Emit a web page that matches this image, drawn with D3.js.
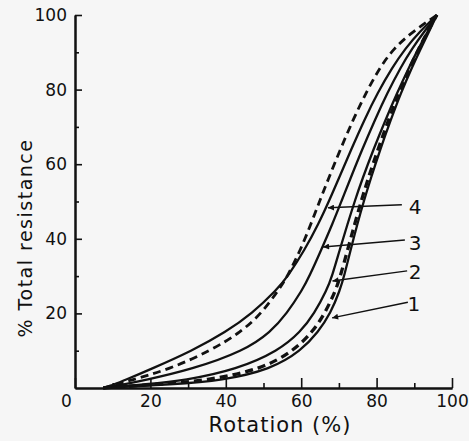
<!DOCTYPE html>
<html>
<head>
<meta charset="utf-8">
<script src="https://cdn.jsdelivr.net/npm/d3@7"></script>
<style>
  body { margin: 0; background: #f6f6f6; }
  svg { display: block; }
  text { font-family: "DejaVu Sans", sans-serif; fill: #111; }
</style>
</head>
<body>
<div id="chart"></div>
<script>
// curve readings, [rotation %, total resistance %]
var curve4 = [[7.5,0],[10.5,1],[13,2],[20,5],[31.1,10],[40,15],[47,20],[53.5,26.3],[56.5,30],[60.9,37],[64.6,44],[67.5,50.4],[69.9,56],[73.2,63.8],[76.8,72],[80.2,79],[84.2,86],[87.6,91],[91.4,95.5],[96,100]]
var curve3 = [[7.5,0],[13,1],[18,2],[31,5],[44.9,10],[51.9,15],[56.2,20],[60.3,26.3],[62.2,30],[65.3,37],[68.3,44],[70.8,50.4],[73,56],[76.1,63.8],[79.6,72],[82.8,79],[86.4,86],[89.4,91],[92.6,95.5],[96,100]]
var curve2 = [[7.5,0],[19,1],[29,2],[43,5],[54,10],[59.8,15],[63.5,20],[66.8,26.3],[68.2,30],[70.2,37],[72.3,44],[74.3,50.4],[76.2,56],[79.1,63.8],[82.4,72],[85.4,79],[88.6,86],[91.1,91],[93.5,95.5],[96,100]]
var curve1 = [[7.5,0],[26,1],[39,2],[52,5],[60,10],[64.5,15],[67.8,20],[70.3,26.3],[71.4,30],[73.1,37],[74.9,44],[76.7,50.4],[78.4,56],[80.9,63.8],[83.8,72],[86.4,79],[89.4,86],[91.7,91],[93.9,95.5],[96,100]]
var dashedLeft = [[7.5,0],[11,1],[14.5,2],[25,5],[36,10],[44,15],[49.5,20],[54,26.3],[56.4,30],[59.8,37],[62.6,44],[65,50.4],[67.2,56],[70.3,63.8],[73.8,72],[77.1,79],[80.9,86],[84.5,91],[89.5,95.5],[96,100]]
var dashedRight = [[7.5,0],[22,1],[35,2],[49.5,5],[58,10],[63,15],[66.3,20],[69.2,26.3],[70.4,30],[72.3,37],[74.2,44],[76,50.4],[77.7,56],[80.3,63.8],[83.2,72],[85.9,79],[88.8,86],[91.2,91],[93.5,95.5],[96,100]]

var majorTicks = [0, 20, 40, 60, 80, 100]
var minorTicks = [10, 30, 50, 70, 90]
var yLabels = [20, 40, 60, 80, 100]

// curve number labels: [name, label pos, arrow start, arrow tip]
var curveLabels = ["4", "3", "2", "1"]
var labelPos = [[90.2,48.5],[90.2,39],[90.2,31],[89.9,22.5]]
var arrowFrom = [[86.7,49.1],[87.5,39.7],[88.1,31.4],[88.3,23]]
var arrowTo = [[67.1,48.3],[65.8,37.8],[68.3,28.7],[68.2,18.8]]

var width = 469, height = 441

var svg = d3.select("#chart")
  .append("svg")
    .attr("width", width)
    .attr("height", height)

var x = d3.scaleLinear().domain([0, 100]).range([75, 452])
var y = d3.scaleLinear().domain([0, 100]).range([388, 15])

// x axis - minor ticks then major ticks with labels
svg.append("g")
    .attr("transform", "translate(0," + y(0) + ")")
    .call(d3.axisBottom(x).tickValues(minorTicks).tickSizeInner(-5).tickSizeOuter(0).tickFormat(""))
svg.append("g")
    .attr("class", "xaxis")
    .attr("transform", "translate(0," + y(0) + ")")
    .call(d3.axisBottom(x).tickValues(majorTicks).tickSizeInner(-10).tickSizeOuter(0).tickPadding(7))

// y axis
svg.append("g")
    .attr("transform", "translate(" + x(0) + ",0)")
    .call(d3.axisLeft(y).tickValues(minorTicks).tickSizeInner(-4).tickSizeOuter(0).tickFormat(""))
svg.append("g")
    .attr("class", "yaxis")
    .attr("transform", "translate(" + x(0) + ",0)")
    .call(d3.axisLeft(y).tickValues(yLabels).tickSizeInner(-7).tickSizeOuter(0).tickPadding(8))

svg.selectAll(".domain").attr("stroke", "#111").attr("stroke-width", 2)
svg.selectAll(".tick line").attr("stroke", "#111").attr("stroke-width", 1.6)
svg.selectAll(".tick text").style("font-size", "17px").attr("fill", "#111")
// the 0 sits left of the corner
svg.selectAll(".xaxis .tick text").filter(function(d) { return d === 0 }).attr("dx", -9)

// axis titles
svg.append("text")
    .attr("x", 280)
    .attr("y", 432)
    .attr("text-anchor", "middle")
    .style("font-size", "21px")
    .style("letter-spacing", "1px")
    .text("Rotation (%)")

svg.append("text")
    .attr("transform", "translate(32,238) rotate(-90)")
    .attr("text-anchor", "middle")
    .style("font-size", "19px")
    .style("letter-spacing", "1.5px")
    .text("% Total resistance")

// the curves
var line = d3.line()
    .x(function(d) { return x(d[0]) })
    .y(function(d) { return y(d[1]) })
    .curve(d3.curveBasis)

var solid = [curve4, curve3, curve2, curve1]
svg.selectAll(".solid")
    .data(solid)
    .enter().append("path")
    .attr("class", "solid")
    .attr("d", line)
    .attr("fill", "none")
    .attr("stroke", "#111")
    .attr("stroke-width", 2.3)

svg.selectAll(".dashed")
    .data([dashedLeft, dashedRight])
    .enter().append("path")
    .attr("class", "dashed")
    .attr("d", line)
    .attr("fill", "none")
    .attr("stroke", "#111")
    .attr("stroke-width", function(d, i) { return i == 0 ? 2.8 : 3.3 })
    .attr("stroke-dasharray", "8,5")

// arrows with numbers
svg.append("defs").append("marker")
    .attr("id", "head")
    .attr("viewBox", "0 0 10 10")
    .attr("refX", 10)
    .attr("refY", 5)
    .attr("markerWidth", 11)
    .attr("markerHeight", 6)
    .attr("markerUnits", "userSpaceOnUse")
    .attr("orient", "auto")
  .append("path")
    .attr("d", "M0,0L10,5L0,10z")
    .attr("fill", "#111")

svg.selectAll(".arrow")
    .data(curveLabels)
    .enter().append("line")
    .attr("class", "arrow")
    .attr("x1", function(d, i) { return x(arrowFrom[i][0]) })
    .attr("y1", function(d, i) { return y(arrowFrom[i][1]) })
    .attr("x2", function(d, i) { return x(arrowTo[i][0]) })
    .attr("y2", function(d, i) { return y(arrowTo[i][1]) })
    .attr("stroke", "#111")
    .attr("stroke-width", 1.5)
    .attr("marker-end", "url(#head)")

svg.selectAll(".num")
    .data(curveLabels)
    .enter().append("text")
    .attr("class", "num")
    .attr("x", function(d, i) { return x(labelPos[i][0]) })
    .attr("y", function(d, i) { return y(labelPos[i][1]) })
    .attr("dy", "0.35em")
    .attr("text-anchor", "middle")
    .style("font-size", "20px")
    .text(function(d) { return d })
</script>
</body>
</html>
